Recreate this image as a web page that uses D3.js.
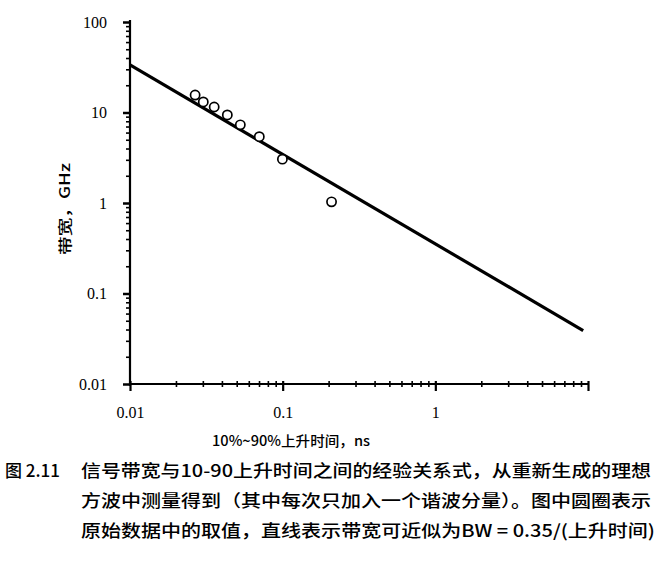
<!DOCTYPE html>
<html>
<head>
<meta charset="utf-8">
<script src="https://cdn.jsdelivr.net/npm/d3@7"></script>
<style>
  html, body { margin: 0; padding: 0; background: #fff; }
  svg { display: block; }
  text { fill: #000; }
</style>
</head>
<body>
<script>
// ---- data ----
const riseTimes = [0.0267, 0.0302, 0.0356, 0.0434, 0.0528, 0.0703, 0.0996, 0.209]; // ns
const bandwidths = [15.6, 13.1, 11.5, 9.4, 7.3, 5.4, 3.05, 1.03];                  // GHz
const fitRiseTimes = [0.01, 9.3];
const fitBandwidths = [33.5, 0.039];
const xTickValues = [0.01, 0.1, 1];
const xTickLabels = ["0.01", "0.1", "1"];
const yTickValues = [0.01, 0.1, 1, 10, 100];
const yTickLabels = ["0.01", "0.1", "1", "10", "100"];
const xDomain = [0.01, 10];
const yDomain = [0.01, 100];
const xTitle = "10%~90%上升时间，ns";
const yTitle = "带宽，GHz";
const captionNum = "图 2.11";
const captionLines = [
  "信号带宽与10-90上升时间之间的经验关系式，从重新生成的理想",
  "方波中测量得到（其中每次只加入一个谐波分量）。图中圆圈表示",
  "原始数据中的取值，直线表示带宽可近似为BW = 0.35/(上升时间)"
];

const W = 661, H = 565;
const svg = d3.select("body").append("svg").attr("width", W).attr("height", H);
svg.append("rect").attr("width", W).attr("height", H).attr("fill", "#fff");

const x0 = 130, x1 = 588, y0 = 384, y1 = 22;
const x = d3.scaleLog().domain(xDomain).range([x0, x1]);
const y = d3.scaleLog().domain(yDomain).range([y0, y1]);

function minors(domain) {
  const out = [];
  for (let e = Math.log10(domain[0]); e < Math.log10(domain[1]); e++) {
    for (let k = 2; k <= 9; k++) out.push(k * Math.pow(10, e));
  }
  return out;
}

const serif = "'Liberation Serif', 'DejaVu Serif', serif";
const cjk = "'Noto Sans CJK SC', sans-serif";

// Y axis
const gy = svg.append("g").attr("transform", `translate(${x0},0)`);
gy.call(d3.axisLeft(y).tickValues(minors(yDomain)).tickSize(4).tickFormat(""))
  .call(g => g.select(".domain").remove())
  .call(g => g.selectAll("line").attr("stroke", "#000").attr("stroke-width", 1.6));
const gyM = svg.append("g").attr("transform", `translate(${x0},0)`);
gyM.call(d3.axisLeft(y).tickValues(yTickValues).tickSize(7).tickPadding(16)
    .tickFormat((d, i) => yTickLabels[i]))
  .call(g => g.select(".domain").remove())
  .call(g => g.selectAll("line").attr("stroke", "#000").attr("stroke-width", 2.5))
  .call(g => g.selectAll("text").attr("font-family", serif).attr("font-size", 16).attr("fill", "#000"));

// X axis
const gx = svg.append("g").attr("transform", `translate(0,${y0})`);
gx.call(d3.axisBottom(x).tickValues(minors(xDomain)).tickSize(3).tickFormat(""))
  .call(g => g.select(".domain").remove())
  .call(g => g.selectAll("line").attr("stroke", "#000").attr("stroke-width", 1.6).attr("y1", -3));
const gxM = svg.append("g").attr("transform", `translate(0,${y0})`);
gxM.call(d3.axisBottom(x).tickValues(xTickValues.concat([10])).tickSize(7).tickPadding(16)
    .tickFormat((d, i) => i < xTickLabels.length ? xTickLabels[i] : ""))
  .call(g => g.select(".domain").remove())
  .call(g => g.selectAll("line").attr("stroke", "#000").attr("stroke-width", 2.2).attr("y1", -3))
  .call(g => g.selectAll("text").attr("font-family", serif).attr("font-size", 16).attr("fill", "#000"));

// axis lines
svg.append("line").attr("x1", x0).attr("x2", x0).attr("y1", y1 - 2).attr("y2", y0 + 2)
  .attr("stroke", "#000").attr("stroke-width", 2.2);
svg.append("line").attr("x1", x0).attr("x2", x1).attr("y1", y0).attr("y2", y0)
  .attr("stroke", "#000").attr("stroke-width", 2.2);

// fit line
svg.append("path")
  .datum(fitRiseTimes.map((t, i) => [t, fitBandwidths[i]]))
  .attr("d", d3.line().x(d => x(d[0])).y(d => y(d[1])))
  .attr("fill", "none").attr("stroke", "#000").attr("stroke-width", 3.2);

// data circles
svg.append("g").selectAll("circle")
  .data(riseTimes.map((t, i) => [t, bandwidths[i]]))
  .join("circle")
  .attr("cx", d => x(d[0])).attr("cy", d => y(d[1])).attr("r", 4.6)
  .attr("fill", "#fff").attr("stroke", "#000").attr("stroke-width", 1.7);

// axis titles
svg.append("text").attr("x", 291).attr("y", 446).attr("text-anchor", "middle")
  .attr("fill", "#000")
  .attr("font-family", cjk).attr("font-size", 14).attr("font-weight", "500")
  .attr("textLength", 158).attr("lengthAdjust", "spacingAndGlyphs").text(xTitle);
svg.append("text").attr("transform", "translate(70,209) rotate(-90)").attr("text-anchor", "middle")
  .attr("fill", "#000")
  .attr("font-family", cjk).attr("font-size", 14).attr("font-weight", "500")
  .attr("textLength", 92).attr("lengthAdjust", "spacingAndGlyphs").text(yTitle);

// caption
svg.append("text").attr("x", 5).attr("y", 477).attr("font-family", cjk).attr("font-size", 17)
  .attr("fill", "#000").attr("font-weight", "500").text(captionNum);
captionLines.forEach((s, i) => {
  svg.append("text").attr("x", 81).attr("y", 477 + i * 30)
    .attr("fill", "#000")
    .attr("font-family", cjk).attr("font-size", 17).attr("font-weight", "500")
    .attr("textLength", i === 2 ? 574 : 570).attr("lengthAdjust", "spacingAndGlyphs")
    .text(s);
});
</script>
</body>
</html>
